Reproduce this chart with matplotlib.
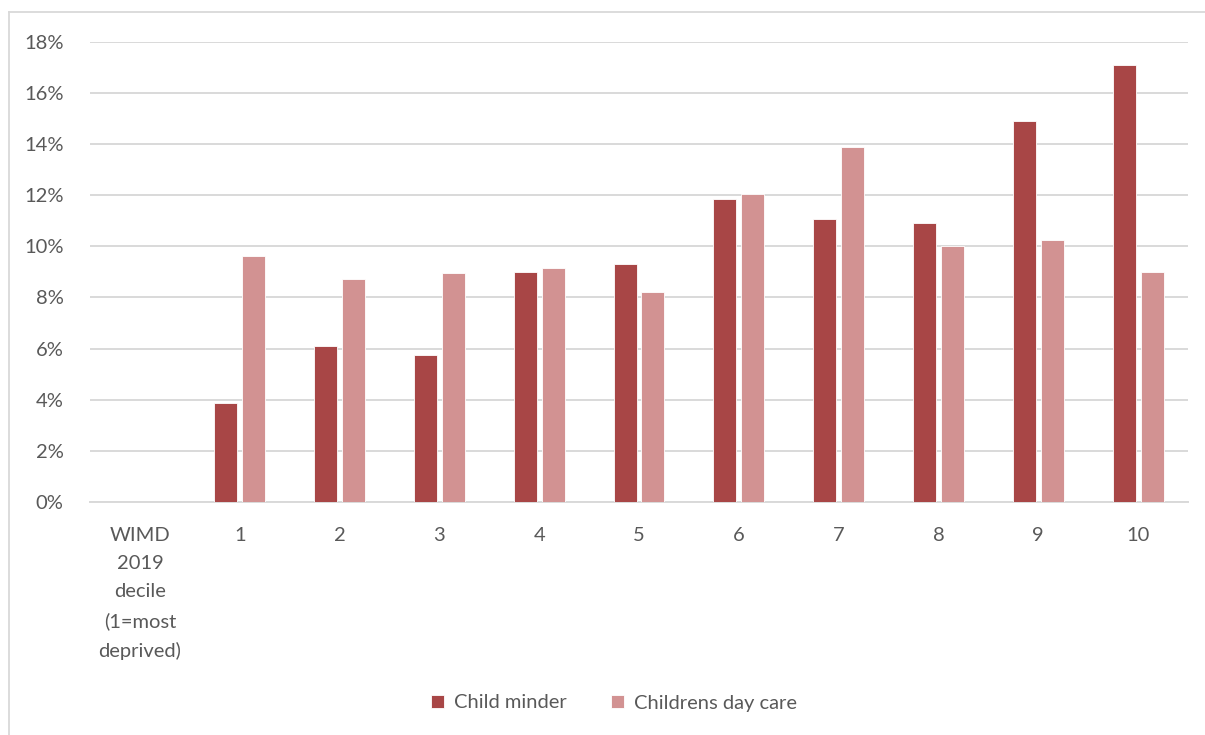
import matplotlib.pyplot as plt
from matplotlib.lines import Line2D
import numpy as np

plt.rcParams['font.family'] = ['Lato', 'DejaVu Sans']

# data (percent)
categories = ['WIMD\n2019\ndecile\n(1=most\ndeprived)', '1', '2', '3', '4', '5', '6', '7', '8', '9', '10']
child_minder = [np.nan, 3.86, 6.11, 5.75, 9.01, 9.32, 11.86, 11.07, 10.91, 14.88, 17.08]
day_care = [np.nan, 9.62, 8.71, 8.96, 9.15, 8.21, 12.06, 13.88, 10.01, 10.26, 8.98]
yticks = [0, 2, 4, 6, 8, 10, 12, 14, 16, 18]

dark = '#A84646'
light = '#D29292'
txt = '#595959'
W, H = 1205, 735
fs = 14.5

fig = plt.figure(figsize=(W / 100, H / 100), dpi=100)
ax = fig.add_axes([90 / W, 1 - 502 / H, (1188 - 90) / W, (502 - 41.7) / H])

x = np.arange(len(categories))
bw = 0.23
ax.bar(x - 0.14, child_minder, bw, color=dark, edgecolor='white', linewidth=0.6, label='Child minder', zorder=3)
ax.bar(x + 0.14, day_care, bw, color=light, edgecolor='white', linewidth=0.6, label='Childrens day care', zorder=3)

ax.set_xlim(-0.5, len(categories) - 0.5)
ax.set_ylim(0, 18)
ax.set_yticks(yticks)
ax.set_yticklabels(['%d%%' % v for v in yticks])
ax.set_xticks(x)
ax.set_xticklabels(categories, linespacing=1.8, va='top')
ax.grid(axis='y', color='#D9D9D9', linewidth=1.4, zorder=0)
for s in ['top', 'right', 'left']:
    ax.spines[s].set_visible(False)
ax.spines['bottom'].set_color('#D9D9D9')
ax.spines['bottom'].set_linewidth(1.4)
ax.tick_params(axis='both', length=0, labelsize=fs, colors=txt)
ax.tick_params(axis='y', pad=19)
ax.tick_params(axis='x', pad=18)

leg = fig.legend(loc='center', bbox_to_anchor=(614 / W, 1 - 703 / H), ncol=2, frameon=False,
                 fontsize=fs, handlelength=0.65, handleheight=0.65, handletextpad=0.5, columnspacing=2.2)
for t in leg.get_texts():
    t.set_color(txt)

# outer chart border (partly cropped in the reference)
fig.add_artist(Line2D([9 / W, 9 / W], [0, 1 - 12 / H], color='#D9D9D9', linewidth=1.3))
fig.add_artist(Line2D([9 / W, 1], [1 - 12 / H, 1 - 12 / H], color='#D9D9D9', linewidth=1.3))

fig.savefig('out.png', dpi=100)
